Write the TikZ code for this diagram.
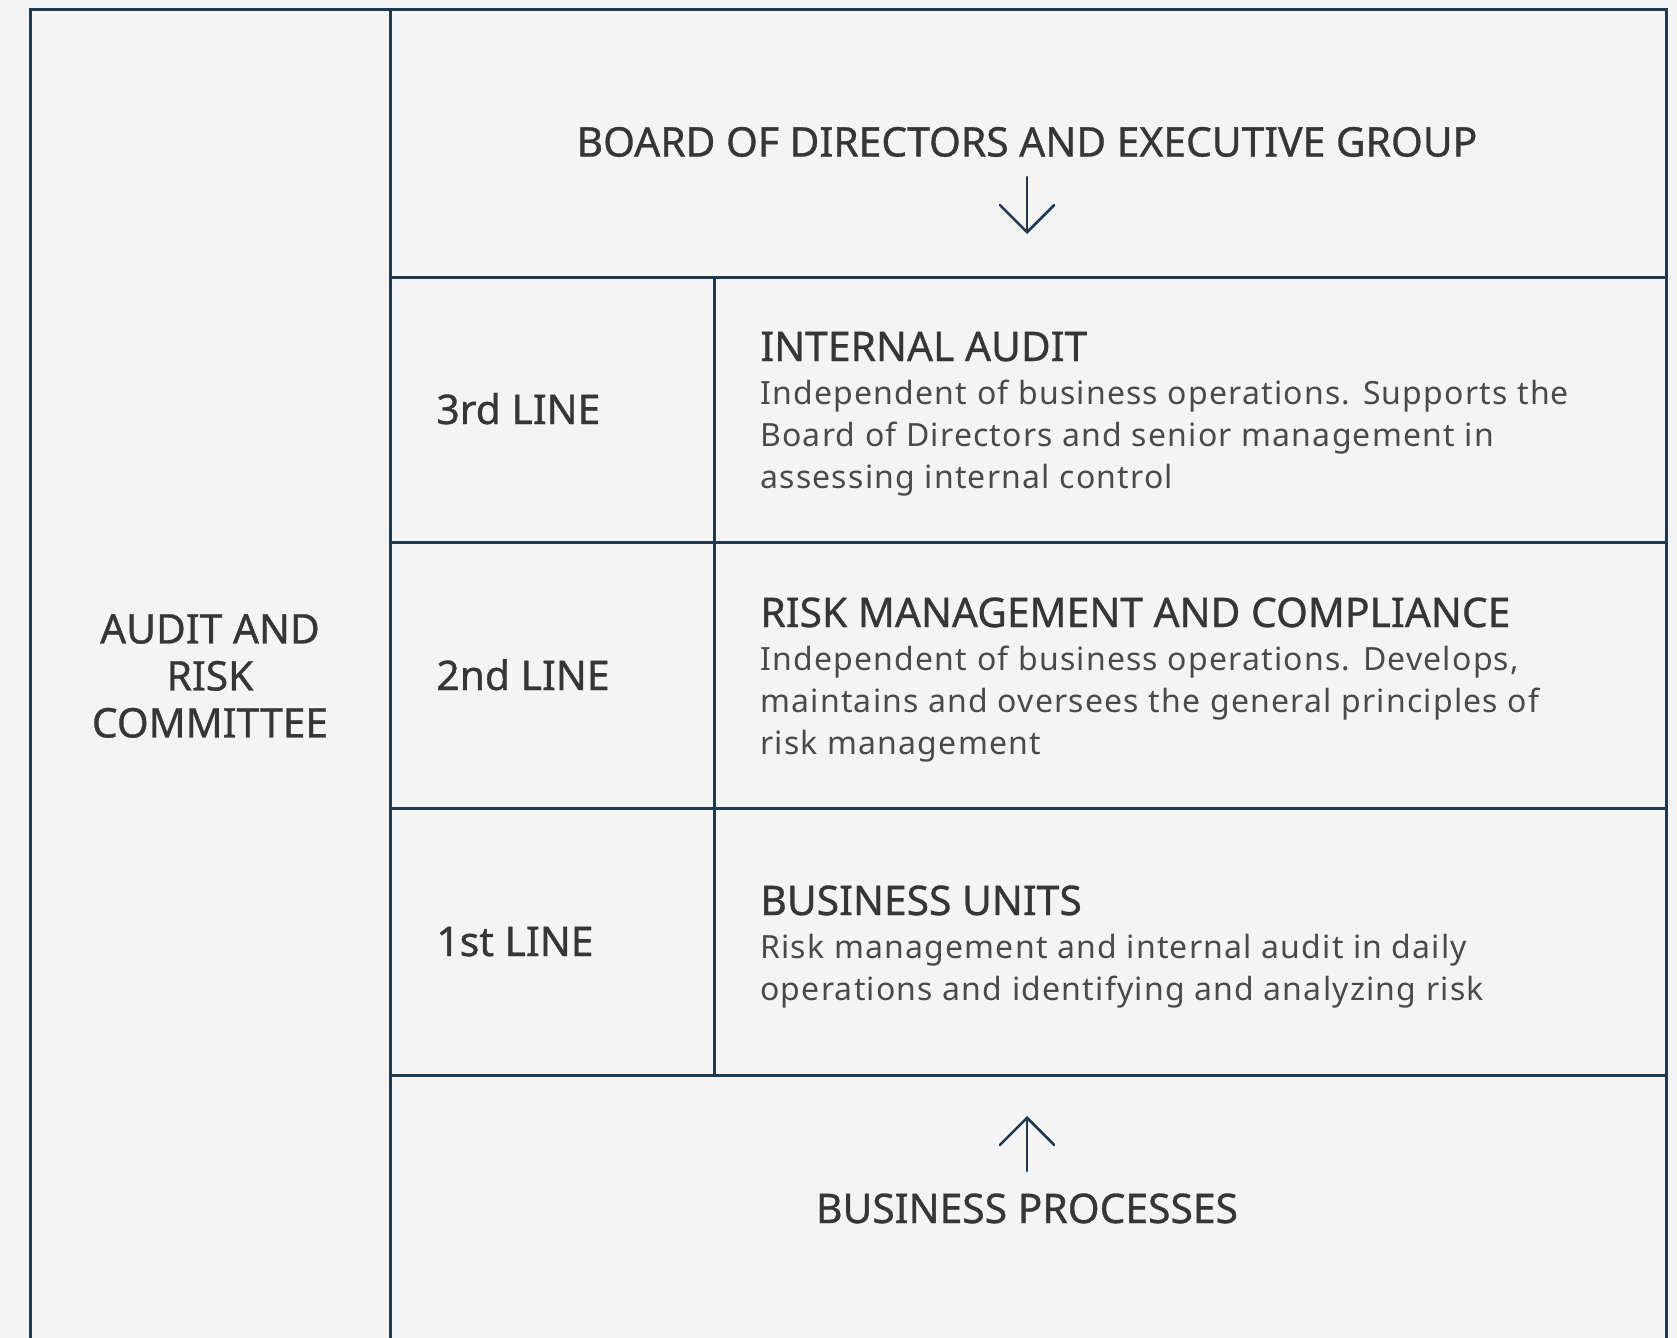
\documentclass[tikz,border=0pt]{standalone}
\usepackage{fontspec}
\setmainfont{Noto Sans}
\newfontfamily\headfont[FakeBold=0.8]{Noto Sans}
\newfontfamily\bodyfont[LetterSpace=3.8]{Noto Sans}
\usetikzlibrary{arrows.meta}
\definecolor{bg}{HTML}{F5F4F5}
\definecolor{navy}{HTML}{1D3A52}
\definecolor{txt}{HTML}{363636}
\definecolor{desc}{HTML}{4A4A4A}
\tikzset{
  rule/.style={draw=navy, line width=1.5pt},
  heading/.style={text=txt, inner sep=0pt, font=\headfont\fontsize{20.4}{23.5}\selectfont},
  body/.style={text=desc, inner sep=0pt, align=left, font=\bodyfont\fontsize{16}{21}\selectfont},
  flow/.style={draw=navy, line width=1.3pt, line cap=round, -{Straight Barb[length=13.5pt, width=27pt, line cap=round]}}
}
\begin{document}
\begin{tikzpicture}[x=0.5pt, y=-0.5pt]
\fill[bg] (0,0) rectangle (1677,1338);
\useasboundingbox (0,0) rectangle (1677,1338);
% grid lines
\draw[rule] (30,1338) -- (30,10) -- (1666,10) -- (1666,1338);
\draw[rule] (390,10) -- (390,1338);
\foreach \y in {277,542,808,1075} \draw[rule] (390,\y) -- (1666,\y);
\draw[rule] (714,277) -- (714,1075);
% top / bottom
\node[heading, anchor=base] (board) at (1027,156.5) {BOARD OF DIRECTORS AND EXECUTIVE GROUP};
\coordinate (dtop) at (1027,177);
\coordinate (dtip) at (1027,234);
\draw[flow] (dtop) -- (dtip);
\node[heading, anchor=base] (proc) at (1027,1223) {BUSINESS PROCESSES};
\coordinate (ubot) at (1027,1171);
\coordinate (utip) at (1027,1116);
\draw[flow] (ubot) -- (utip);
% committee
\node[heading, align=center] (arc) at (210,676) {AUDIT AND\\RISK\\COMMITTEE};
% lines
\node[heading, anchor=base west] (l3) at (436,424) {3rd LINE};
\node[heading, anchor=base west] (l2) at (436,690) {2nd LINE};
\node[heading, anchor=base west] (l1) at (436,956) {1st LINE};
% descriptions (base anchor = last line baseline)
\node[heading, anchor=base west] (ia) at (760,361) {INTERNAL AUDIT};
\node[body, anchor=base west] (iad) at (760,488) {Independent of business operations. Supports the\\Board of Directors and senior management in\\assessing internal control};
\node[heading, anchor=base west] (rm) at (760,627) {RISK MANAGEMENT AND COMPLIANCE};
\node[body, anchor=base west] (rmd) at (760,754) {Independent of business operations. Develops,\\maintains and oversees the general principles of\\risk management};
\node[heading, anchor=base west] (bu) at (760,915) {BUSINESS UNITS};
\node[body, anchor=base west] (bud) at (760,1000) {Risk management and internal audit in daily\\operations and identifying and analyzing risk};
\end{tikzpicture}
\end{document}
